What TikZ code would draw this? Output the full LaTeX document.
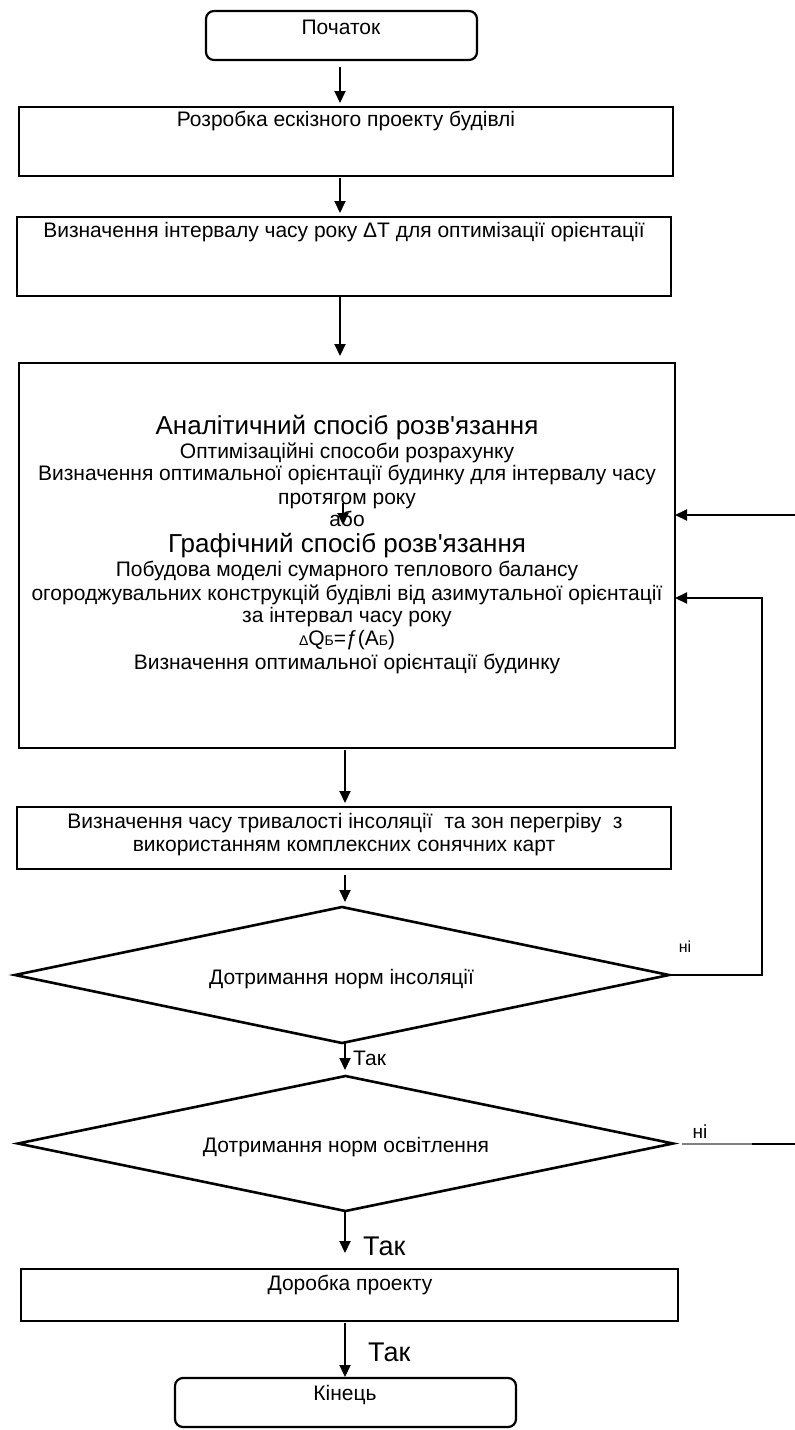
\documentclass[tikz,border=0pt]{standalone}
\usepackage{fontspec}
\setmainfont{Liberation Sans}
\newfontfamily\aposfont{Liberation Sans}
\newcommand\sapos{{\aposfont '}}
\usetikzlibrary{arrows.meta,shapes.geometric}
\begin{document}
\begin{tikzpicture}[x=1pt,y=-1pt,
  box/.style={draw, line width=2.8pt, inner sep=0pt, outer sep=0pt},
  rbox/.style={box, rounded corners=8pt, line width=2.2pt},
  dia/.style={draw, diamond, line width=2.6pt, inner sep=0pt, outer sep=0pt},
  arr/.style={line width=2pt, -{Triangle[length=12pt,width=11pt]}},
  ln/.style={line width=2pt},
  txt/.style={inner sep=0pt, font=\fontsize{21}{25}\selectfont, text height=15pt, text depth=0pt},
  ttl/.style={inner sep=0pt, font=\fontsize{26}{30}\selectfont, text height=18.6pt, text depth=0pt},
  bigt/.style={inner sep=0pt, font=\fontsize{27}{30}\selectfont, text height=19.3pt, text depth=0pt},
  smt/.style={inner sep=0pt, font=\fontsize{16}{18}\selectfont, text height=11.5pt, text depth=0pt},
  midt/.style={inner sep=0pt, font=\fontsize{19}{22}\selectfont, text height=13.6pt, text depth=0pt}
]
\useasboundingbox (0,0) rectangle (795,1430);

% boxes
\node[rbox, minimum width=271pt, minimum height=49pt] (start) at (341.5,35.5) {};
\node[box, minimum width=654pt, minimum height=69pt] (b2) at (346,141.5) {};
\node[box, minimum width=654pt, minimum height=79pt] (b3) at (344,256.5) {};
\node[box, minimum width=656pt, minimum height=385pt] (big) at (347,555.5) {};
\node[box, minimum width=654pt, minimum height=62pt] (b4) at (344,838) {};
\node[dia, minimum width=654pt, minimum height=136pt] (d1) at (342,975) {};
\node[dia, minimum width=655pt, minimum height=135pt] (d2) at (345.5,1143.5) {};
\node[box, minimum width=657pt, minimum height=52pt] (b5) at (349.5,1295) {};
\node[rbox, minimum width=341pt, minimum height=49pt] (end) at (345.5,1402.5) {};

% texts
\node[txt] (tstart) at (341,27) {Початок};
\node[txt] (t2) at (346,119) {Розробка ескізного проекту будівлі};
\node[txt] (t3) at (344,230) {Визначення інтервалу часу року ΔT для оптимізації орієнтації};
\node[ttl] (l1) at (347,425) {Аналітичний спосіб розв\sapos язання};
\node[txt] (l2) at (347,451) {Оптимізаційні способи розрахунку};
\node[txt] (l3) at (347,473) {Визначення оптимальної орієнтації будинку для інтервалу часу};
\node[txt] (l4) at (347,497) {протягом року};
\node[txt] (l5) at (347,519) {або};
\node[ttl] (l6) at (347,543) {Графічний спосіб розв\sapos язання};
\node[txt] (l7) at (347,569) {Побудова моделі сумарного теплового балансу};
\node[txt] (l8) at (347,593) {огороджувальних конструкцій будівлі від азимутальної орієнтації};
\node[txt] (l9) at (347,615) {за інтервал часу року};
\node[txt] (l10) at (347,638) {{\fontsize{14}{14}\selectfont Δ}Q{\fontsize{14}{14}\selectfont Б}=ƒ(А{\fontsize{14}{14}\selectfont Б})};
\node[txt] (l11) at (347,662) {Визначення оптимальної орієнтації будинку};
\node[txt] (t4a) at (345,821) {Визначення часу тривалості інсоляції\ \ та зон перегріву\ \ з};
\node[txt] (t4b) at (344,844) {використанням комплексних сонячних карт};
\node[txt] (td1) at (341.5,977) {Дотримання норм інсоляції};
\node[txt] (td2) at (346,1145) {Дотримання норм освітлення};
\node[txt] (t5) at (350,1283) {Доробка проекту};
\node[txt] (tend) at (345,1393) {Кінець};

% labels
\node[txt, anchor=west] (yes1) at (353,1058) {Так};
\node[bigt, anchor=west] (yes2) at (363,1246) {Так};
\node[bigt, anchor=west] (yes3) at (368,1352) {Так};
\node[smt] (no1) at (685,947) {ні};
\node[midt] (no2) at (700,1132) {ні};

% connectors
\coordinate (ax) at (340,0);
\coordinate (ay) at (345,0);
\draw[arr, shorten <=7pt, shorten >=4pt] (start.south -| ax) -- (b2.north -| ax);
\draw[arr, shorten <=2pt, shorten >=4pt] (b2.south -| ax) -- (b3.north -| ax);
\draw[arr, shorten <=1pt, shorten >=7pt] (b3.south -| ax) -- (big.north -| ax);
\draw[arr, shorten <=2pt, shorten >=4pt] (big.south -| ay) -- (b4.north -| ay);
\draw[arr, shorten <=6pt, shorten >=5pt] (b4.south -| ay) -- (d1.north -| ay);
\draw[arr, shorten >=6pt] (d1.south -| ay) -- (d2.north -| ay);
\draw[arr, shorten >=16pt] (d2.south -| ay) -- (b5.north -| ay);
\draw[arr, shorten <=2pt, shorten >=1pt] (b5.south -| ay) -- (end.north -| ay);

\coordinate (ia1) at (343,503);
\coordinate (ia2) at (343,525);
\draw[arr] (ia1) -- (ia2);

\coordinate (fb1) at (795,515);
\draw[arr] (fb1) -- (fb1 -| big.east);
\coordinate (fb2) at (762,598);
\draw[arr] (d1.east) -| (fb2) -- (fb2 -| big.east);

\coordinate (n2b) at (752,1143.5);
\coordinate (n2c) at (795,1143.5);
\draw[ln, gray] ([xshift=9pt]d2.east) -- (n2b);
\draw[ln] (n2b) -- (n2c);
\end{tikzpicture}
\end{document}
